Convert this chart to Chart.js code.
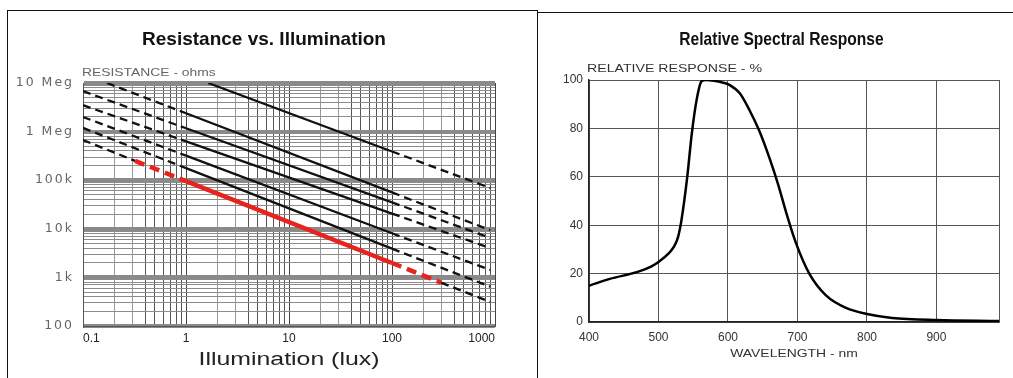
<!DOCTYPE html>
<html>
<head>
<meta charset="utf-8">
<title>Resistance vs. Illumination / Relative Spectral Response</title>
<script src="https://cdn.jsdelivr.net/npm/chart.js@4.4.1/dist/chart.umd.min.js"></script>
<style>
    html, body { margin: 0; padding: 0; background: #fff; }
    body { width: 1013px; height: 378px; position: relative; overflow: hidden; font-family: 'Liberation Sans', Arial, sans-serif; }
    .frame { position: absolute; box-sizing: border-box; }
    #leftFrame { left: 7px; top: 10px; width: 531px; height: 380px; border: 1.5px solid #111; border-bottom: none; }
    #rightFrame { left: 537px; top: 12px; width: 480px; height: 380px; border-top: 1.5px solid #111; }
    canvas { position: absolute; }
    #resChart { left: 8px; top: 11px; }
    #specChart { left: 538px; top: 13px; }
</style>
</head>
<body>
<div class="frame" id="leftFrame"></div>
<div class="frame" id="rightFrame"></div>
<canvas id="resChart" width="529" height="367"></canvas>
<canvas id="specChart" width="475" height="365"></canvas>
<script>
// ---- Resistance vs. Illumination (log-log) ----
const luxTicks = [0.1, 1, 10, 100, 1000]
const luxTickLabels = ['0.1', '1', '10', '100', '1000']
const ohmTicks = [100, 1e3, 1e4, 1e5, 1e6, 1e7]
const ohmTickLabels = ['100', '1k', '10k', '100k', '1 Meg', '10 Meg']

// curves, top to bottom
const curve1Lux = [1.64, 100, 900]
const curve1Ohm = [1.0e7, 3.9e5, 6.9e4]
const curve2Lux = [0.171, 1, 100, 900]
const curve2Ohm = [1.0e7, 2.38e6, 5.6e4, 9.4e3]
const curve3Lux = [0.1, 1, 100, 900]
const curve3Ohm = [6.8e6, 1.17e6, 3.5e4, 6.5e3]
const curve4Lux = [0.1, 1, 100, 900]
const curve4Ohm = [3.5e6, 6.3e5, 2.06e4, 4.0e3]
const curve5Lux = [0.1, 1, 100, 900]
const curve5Ohm = [2.0e6, 3.2e5, 8.1e3, 1.42e3]
const curve6Lux = [0.1, 1, 100, 900]
const curve6Ohm = [1.19e6, 1.77e5, 3.9e3, 644]
// lowest curve, the red one covers the middle of it
const curve7Lux = [0.1, 0.32, 1, 300, 900]
const curve7Ohm = [6.7e5, 2.5e5, null, 780, 312]
const redLux = [0.32, 1, 100, 300]
const redOhm = [2.5e5, 9.6e4, 1.98e3, 780]

// ---- Relative Spectral Response ----
const wavelength = [400, 430, 470, 490, 500, 515, 522, 528, 533, 541, 548, 555, 562, 568, 580, 592, 602, 617, 631, 645, 660, 672, 684, 698, 717, 741, 770, 800, 836, 900, 990]
const response = [15, 17.8, 20.7, 23, 24.8, 28.5, 31, 35, 42, 59, 78, 92, 99.5, 100, 99.7, 99, 98, 94.5, 87.5, 79, 67.5, 57, 45, 32.5, 20, 11, 5.8, 3.3, 1.7, 0.8, 0.4]
const wlTicks = [400, 500, 600, 700, 800, 900]
const pctTicks = [0, 20, 40, 60, 80, 100]

const FONT = 'Liberation Sans'

function toPoints(xs, ys) {
    return xs.map((x, i) => ({ x: x, y: ys[i] }))
}

// 1..9 x 10^n, for log paper
function logGrid(lo, hi) {
    const out = []
    for (let e = Math.round(Math.log10(lo)); e < Math.round(Math.log10(hi)); e++) {
        for (let m = 1; m < 10; m++) out.push(m * Math.pow(10, e))
    }
    out.push(hi)
    return out
}
const mant = v => Math.round(v / Math.pow(10, Math.floor(Math.log10(v) + 1e-9)))

function labelFor(v, ticks, labels) {
    const i = ticks.findIndex(t => Math.abs(t - v) / t < 1e-6)
    return i < 0 ? '' : labels[i]
}

// dashed outside the 1..100 lux range
const outsideSpec = c => c.p0.parsed.x < 0.99 || c.p1.parsed.x > 101

function blackCurve(xs, ys) {
    return {
        data: toPoints(xs, ys),
        borderColor: '#111',
        borderWidth: 2.3,
        pointRadius: 0,
        order: 1,
        segment: { borderDash: c => outsideSpec(c) ? [8, 5] : undefined }
    }
}

// titles and axis texts (stretched like the scanned sheet), letter spacing for the y labels
const panelText = {
    id: 'panelText',
    beforeDraw(chart) {
        chart.ctx.letterSpacing = '0px'
    },
    afterDatasetsDraw(chart, args, opts) {
        chart.ctx.letterSpacing = opts.tickSpacing || '0px'
    },
    afterDraw(chart, args, opts) {
        const { ctx, chartArea } = chart
        ctx.letterSpacing = '0px'
        ;(opts.items || []).forEach(it => {
            ctx.save()
            ctx.font = (it.bold ? 'bold ' : '') + it.size + 'px "' + FONT + '"'
            ctx.fillStyle = it.color
            ctx.textAlign = it.align
            ctx.textBaseline = 'alphabetic'
            const x = it.align === 'center' ? (chartArea.left + chartArea.right) / 2 + it.dx : chartArea.left + it.dx
            const y = it.fromBottom ? chartArea.bottom + it.dy : chartArea.top + it.dy
            ctx.translate(x, y)
            ctx.scale(it.sx, 1)
            ctx.fillText(it.text, 0, 0)
            ctx.restore()
        })
    }
}

new Chart(document.getElementById('resChart'), {
    type: 'line',
    data: {
        datasets: [
            {
                data: toPoints(redLux, redOhm),
                borderColor: '#e8231c',
                borderWidth: 4.5,
                pointRadius: 0,
                order: 0,
                segment: { borderDash: c => outsideSpec(c) ? [10, 6] : undefined }
            },
            blackCurve(curve1Lux, curve1Ohm),
            blackCurve(curve2Lux, curve2Ohm),
            blackCurve(curve3Lux, curve3Ohm),
            blackCurve(curve4Lux, curve4Ohm),
            blackCurve(curve5Lux, curve5Ohm),
            blackCurve(curve6Lux, curve6Ohm),
            blackCurve(curve7Lux, curve7Ohm)
        ]
    },
    options: {
        responsive: false,
        animation: false,
        layout: { padding: { left: 0, right: 42, top: 72 } },
        plugins: {
            legend: { display: false },
            tooltip: { enabled: false },
            panelText: {
                tickSpacing: '2px',
                items: [
                    { text: 'Resistance vs. Illumination', bold: true, align: 'center', dx: -25, dy: -38, size: 19, color: '#111', sx: 1 },
                    { text: 'RESISTANCE - ohms', align: 'left', dx: -1, dy: -7, size: 11, color: '#666', sx: 1.26 },
                    { text: 'Illumination (lux)', align: 'center', fromBottom: true, dx: 0, dy: 39, size: 18, color: '#222', sx: 1.38 }
                ]
            }
        },
        scales: {
            x: {
                type: 'logarithmic',
                min: 0.1,
                max: 1000,
                afterBuildTicks: s => { s.ticks = logGrid(0.1, 1000).map(v => ({ value: v })) },
                afterFit: s => { s.height = 52 },
                grid: {
                    drawTicks: false,
                    lineWidth: 1,
                    color: c => {
                        const m = mant(c.tick.value)
                        return m === 1 ? '#444' : m < 4 ? '#999' : '#555'
                    }
                },
                border: { color: '#555', width: 1 },
                ticks: {
                    autoSkip: false,
                    maxRotation: 0,
                    align: 'inner',
                    padding: 5,
                    color: '#222',
                    font: { family: FONT, size: 12 },
                    callback: v => labelFor(v, luxTicks, luxTickLabels)
                }
            },
            y: {
                type: 'logarithmic',
                min: 100,
                max: 1e7,
                afterBuildTicks: s => { s.ticks = logGrid(100, 1e7).map(v => ({ value: v })) },
                afterFit: s => { s.width = 75 },
                grid: {
                    drawTicks: false,
                    lineWidth: c => mant(c.tick.value) === 1 ? 4 : 1,
                    color: c => mant(c.tick.value) === 1 ? '#8a8a8a' : '#8c8c8c'
                },
                border: { color: '#555', width: 1 },
                ticks: {
                    autoSkip: false,
                    padding: 9,
                    z: 1,
                    color: '#666',
                    font: { family: 'DejaVu Sans', size: 12.5 },
                    callback: v => labelFor(v, ohmTicks, ohmTickLabels)
                }
            }
        }
    },
    plugins: [panelText]
})

new Chart(document.getElementById('specChart'), {
    type: 'line',
    data: {
        datasets: [{
            data: toPoints(wavelength, response),
            borderColor: '#000',
            borderWidth: 2.5,
            pointRadius: 0,
            cubicInterpolationMode: 'monotone'
        }]
    },
    options: {
        responsive: false,
        animation: false,
        layout: { padding: { left: 0, right: 14, top: 67 } },
        plugins: {
            legend: { display: false },
            tooltip: { enabled: false },
            panelText: {
                items: [
                    { text: 'Relative Spectral Response', bold: true, align: 'center', dx: -12.5, dy: -35, size: 19, color: '#111', sx: 0.82 },
                    { text: 'RELATIVE RESPONSE - %', align: 'left', dx: -2, dy: -8, size: 11.5, color: '#333', sx: 1.23 },
                    { text: 'WAVELENGTH - nm', align: 'center', fromBottom: true, dx: 0, dy: 35, size: 11.5, color: '#333', sx: 1.21 }
                ]
            }
        },
        scales: {
            x: {
                type: 'linear',
                min: 400,
                max: 990,
                afterBuildTicks: s => { s.ticks = wlTicks.concat([990]).map(v => ({ value: v })) },
                afterFit: s => { s.height = 56 },
                grid: { drawTicks: false, color: '#555', lineWidth: 1 },
                border: { color: '#222', width: 1.5 },
                ticks: {
                    autoSkip: false,
                    maxRotation: 0,
                    padding: 8,
                    color: '#333',
                    font: { family: FONT, size: 12 },
                    callback: v => wlTicks.includes(v) ? String(v) : ''
                }
            },
            y: {
                min: 0,
                max: 100,
                afterBuildTicks: s => { s.ticks = pctTicks.map(v => ({ value: v })) },
                afterFit: s => { s.width = 51 },
                grid: { drawTicks: false, color: '#555', lineWidth: 1 },
                border: { color: '#222', width: 1.5 },
                ticks: {
                    padding: 6,
                    color: '#333',
                    font: { family: FONT, size: 12 }
                }
            }
        }
    },
    plugins: [panelText]
})
</script>
</body>
</html>
